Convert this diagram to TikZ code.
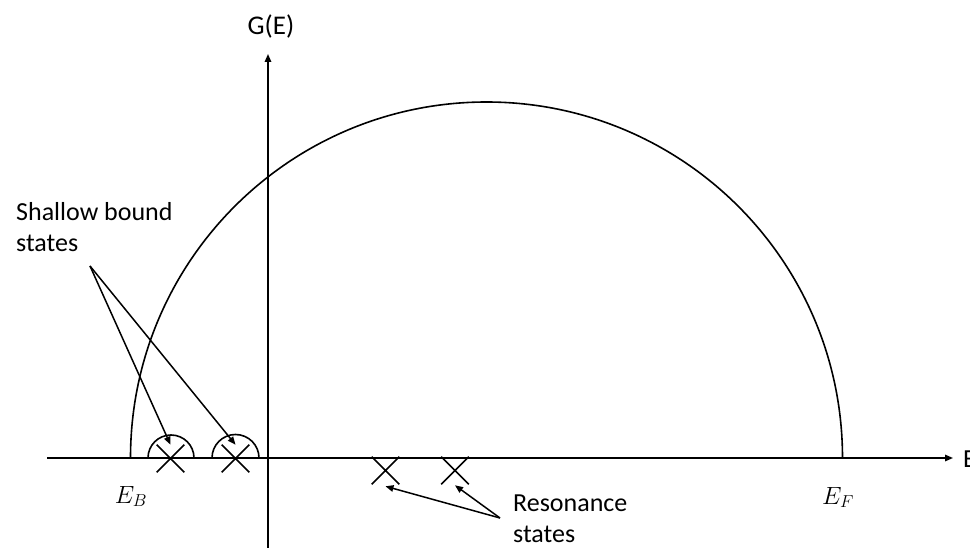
\documentclass[tikz,border=0pt]{standalone}
\usepackage{fontspec}
\setmainfont{Carlito}
\usetikzlibrary{arrows.meta,shapes.misc}
\tikzset{
  line/.style={line width=1.6pt, black},
  arr/.style={line width=1.5pt, -{Triangle[length=8pt,width=6.5pt]}},
  xmark/.style={cross out, draw, line width=1.6pt, minimum size=26pt, inner sep=0pt},
  lbl/.style={inner sep=0pt, font=\fontsize{26}{31}\selectfont, align=left},
  mlbl/.style={inner sep=0pt, font=\fontsize{25}{28}\selectfont},
}
\begin{document}
\begin{tikzpicture}[x=1pt,y=-1pt]
\useasboundingbox (0,0) rectangle (970,548);
% axes
\coordinate (xl) at (47,458);
\coordinate (xr) at (953,458);
\coordinate (yb) at (268,550);
\coordinate (yt) at (268,54);
\draw[line, -{Triangle[length=8pt,width=6.5pt]}] (xl) -- (xr);
\draw[line, -{Triangle[length=8pt,width=6.5pt]}] (yb) -- (yt);
\node[lbl, anchor=base west] (elab) at (963,467) {E};
\node[lbl, anchor=base, font=\fontsize{27}{31}\selectfont] (glab) at (271,35) {G(E)};
% big semicircle
\coordinate (bigl) at (130.5,458);
\draw[line] (bigl) arc[start angle=180, end angle=360, radius=356];
% small semicircles
\coordinate (s1l) at (148,458);
\coordinate (s2l) at (212,458);
\draw[line] (s1l) arc[start angle=180, end angle=360, radius=23];
\draw[line] (s2l) arc[start angle=180, end angle=360, radius=23.5];
% crosses
\node[xmark] (b1) at (170.5,458.5) {};
\node[xmark] (b2) at (235.5,458.5) {};
\node[xmark] (r1) at (385.5,470.5) {};
\node[xmark] (r2) at (455,470.5) {};
% labels
\node[mlbl, anchor=base] (eb) at (131,503) {$E_B$};
\node[mlbl, anchor=base] (ef) at (838,504) {$E_F$};
\node[lbl, anchor=base west] (sb) at (16,252) {Shallow bound\\states};
\node[lbl, anchor=base west] (rs) at (513,542) {Resonance\\states};
% arrows
\coordinate (sbs) at (90,266);
\coordinate (rss) at (500,518);
\draw[arr] (sbs) -- (b1.north);
\draw[arr] (sbs) -- (b2.north);
\draw[arr] (rss) -- ([yshift=-2pt]r1.south);
\draw[arr] (rss) -- ([yshift=-1pt]r2.south);
\end{tikzpicture}
\end{document}
